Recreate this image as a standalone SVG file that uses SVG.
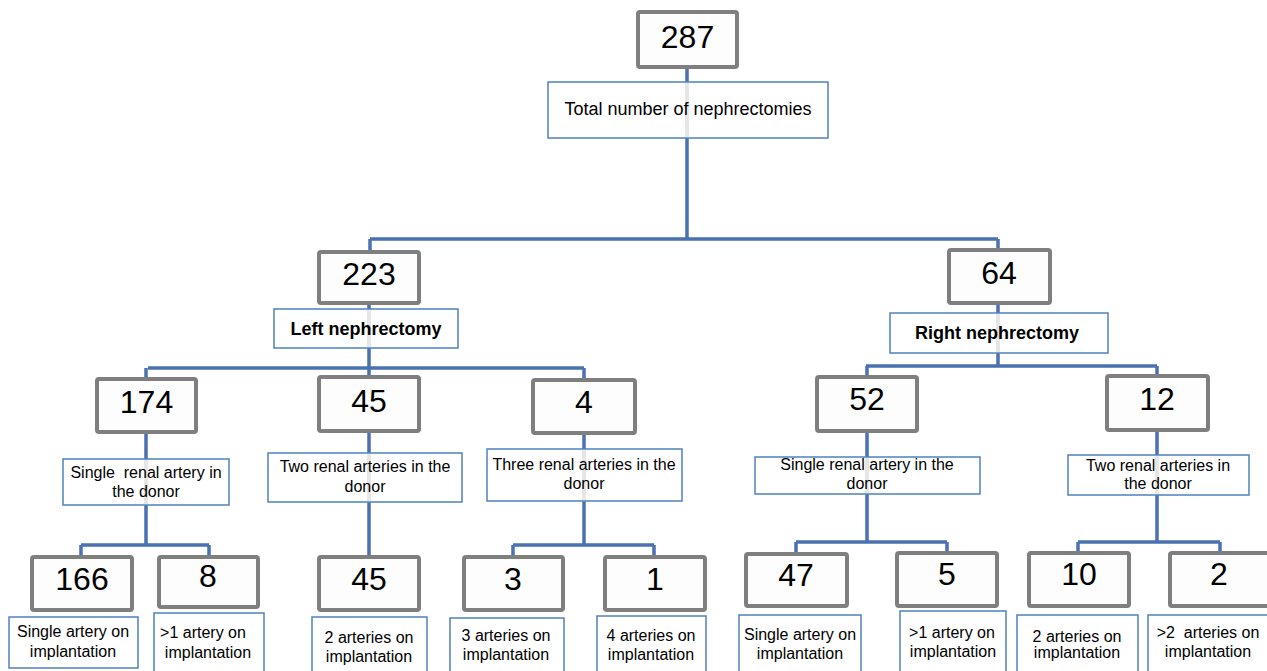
<svg xmlns="http://www.w3.org/2000/svg" width="1267" height="671" viewBox="0 0 1267 671">
<style>
.num{fill:#fdfdfd;stroke:#7f7f7f;stroke-width:4;}
.lab{fill:#ffffff;stroke:#4f81bd;stroke-width:1.5;}
.ghost{stroke:#e6e6e6;stroke-width:4;fill:none;}
.conn{stroke:#4a72b0;stroke-width:3.5;fill:none;stroke-linejoin:miter;}
.n{font-family:"Liberation Sans",Arial,sans-serif;font-size:32px;fill:#000;text-anchor:middle;}
.t{font-family:"Liberation Sans",Arial,sans-serif;font-size:16px;fill:#000;text-anchor:middle;white-space:pre;}
.tb{font-family:"Liberation Sans",Arial,sans-serif;font-size:18px;font-weight:bold;fill:#000;text-anchor:middle;}
.tl{font-family:"Liberation Sans",Arial,sans-serif;font-size:18px;fill:#000;text-anchor:middle;}
</style>
<rect width="1267" height="671" fill="#ffffff"/>
<g id="connectors">
<path class="conn" d="M687,67 V239 M370,239 H998 M370,239 V252 M998,239 V250"/>
<path class="conn" d="M369,303 V368 M148,368 H584 M146,368 V379 M369,368 V377 M584,368 V380"/>
<path class="conn" d="M998,303 V366 M866,366 H1157 M867,366 V377 M1157,366 V376"/>
<path class="conn" d="M146,432 V545 M81,545 H209 M81,545 V557 M209,545 V557"/>
<path class="conn" d="M369,431 V557"/>
<path class="conn" d="M584,433 V545 M513,545 H654 M513,545 V557 M654,545 V557"/>
<path class="conn" d="M867,431 V542 M796,542 H947 M796,542 V554 M947,542 V553"/>
<path class="conn" d="M1157,430 V542 M1078,542 H1220 M1078,542 V553 M1220,542 V553"/>
</g>
<g id="n287"><rect class="num" x="638" y="12" width="99" height="55" rx="2"/><text class="n" x="687.5" y="48">287</text></g>
<g id="lTotal"><rect class="lab" x="548" y="82" width="280" height="56"/><line class="ghost" x1="687" y1="83" x2="687" y2="137"/><text class="tl" x="688" y="115">Total number of nephrectomies</text></g>
<g id="n223"><rect class="num" x="319" y="252" width="100" height="51" rx="2"/><text class="n" x="369" y="285">223</text></g>
<g id="lLeft"><rect class="lab" x="274" y="309" width="184" height="39"/><line class="ghost" x1="369" y1="310" x2="369" y2="347"/><text class="tb" x="366" y="335">Left nephrectomy</text></g>
<g id="n64"><rect class="num" x="949" y="250" width="101" height="53" rx="2"/><text class="n" x="999" y="284">64</text></g>
<g id="lRight"><rect class="lab" x="890" y="313" width="218" height="40"/><line class="ghost" x1="998" y1="314" x2="998" y2="352"/><text class="tb" x="997" y="339">Right nephrectomy</text></g>
<g id="n174"><rect class="num" x="97" y="379" width="99" height="53" rx="2"/><text class="n" x="146.5" y="413">174</text></g>
<g id="l174"><rect class="lab" x="63" y="459" width="166" height="46"/><line class="ghost" x1="146" y1="460" x2="146" y2="504"/><text class="t" x="146" y="478">Single  renal artery in</text><text class="t" x="146" y="497">the donor</text></g>
<g id="n45a"><rect class="num" x="319" y="377" width="100" height="54" rx="2"/><text class="n" x="369" y="412">45</text></g>
<g id="l45a"><rect class="lab" x="268" y="453" width="194" height="49"/><line class="ghost" x1="369" y1="454" x2="369" y2="501"/><text class="t" x="365" y="472">Two renal arteries in the</text><text class="t" x="365" y="492">donor</text></g>
<g id="n4"><rect class="num" x="533" y="380" width="102" height="53" rx="2"/><text class="n" x="584" y="413">4</text></g>
<g id="l4"><rect class="lab" x="487" y="449" width="195" height="52"/><line class="ghost" x1="584" y1="450" x2="584" y2="500"/><text class="t" x="584" y="470">Three renal arteries in the</text><text class="t" x="584" y="489">donor</text></g>
<g id="n52"><rect class="num" x="817" y="377" width="100" height="54" rx="2"/><text class="n" x="867" y="410">52</text></g>
<g id="l52"><rect class="lab" x="755" y="457" width="225" height="37"/><line class="ghost" x1="867" y1="458" x2="867" y2="493"/><text class="t" x="867" y="470">Single renal artery in the</text><text class="t" x="867" y="489">donor</text></g>
<g id="n12"><rect class="num" x="1107" y="376" width="101" height="54" rx="2"/><text class="n" x="1157" y="410">12</text></g>
<g id="l12"><rect class="lab" x="1068" y="455" width="181" height="40"/><line class="ghost" x1="1157" y1="456" x2="1157" y2="494"/><text class="t" x="1158" y="471">Two renal arteries in</text><text class="t" x="1158" y="489">the donor</text></g>
<g id="n166"><rect class="num" x="32" y="557" width="100" height="53" rx="2"/><text class="n" x="82" y="590">166</text></g>
<g id="l166"><rect class="lab" x="9" y="617" width="129" height="51"/><text class="t" x="73" y="637">Single artery on</text><text class="t" x="73" y="657">implantation</text></g>
<g id="n8"><rect class="num" x="159" y="557" width="99" height="50" rx="2"/><text class="n" x="208" y="587">8</text></g>
<g id="l8"><rect class="lab" x="154" y="613" width="110" height="62"/><text class="t" x="203" y="638">&gt;1 artery on</text><text class="t" x="208" y="658">implantation</text></g>
<g id="n45b"><rect class="num" x="319" y="557" width="100" height="53" rx="2"/><text class="n" x="369" y="590">45</text></g>
<g id="l45b"><rect class="lab" x="312" y="617" width="115" height="58"/><text class="t" x="369" y="643">2 arteries on</text><text class="t" x="369" y="662">implantation</text></g>
<g id="n3"><rect class="num" x="464" y="557" width="99" height="53" rx="2"/><text class="n" x="513" y="590">3</text></g>
<g id="l3"><rect class="lab" x="450" y="618" width="114" height="57"/><text class="t" x="506" y="641">3 arteries on</text><text class="t" x="506" y="660">implantation</text></g>
<g id="n1"><rect class="num" x="605" y="557" width="100" height="53" rx="2"/><text class="n" x="655" y="590">1</text></g>
<g id="l1"><rect class="lab" x="597" y="616" width="109" height="59"/><text class="t" x="651" y="641">4 arteries on</text><text class="t" x="651" y="660">implantation</text></g>
<g id="n47"><rect class="num" x="746" y="554" width="101" height="52" rx="2"/><text class="n" x="796" y="586">47</text></g>
<g id="l47"><rect class="lab" x="739" y="615" width="122" height="60"/><text class="t" x="800" y="640">Single artery on</text><text class="t" x="800" y="659">implantation</text></g>
<g id="n5"><rect class="num" x="897" y="553" width="100" height="53" rx="2"/><text class="n" x="947" y="585">5</text></g>
<g id="l5"><rect class="lab" x="900" y="611" width="106" height="64"/><text class="t" x="952" y="638">&gt;1 artery on</text><text class="t" x="953" y="657">implantation</text></g>
<g id="n10"><rect class="num" x="1029" y="553" width="100" height="53" rx="2"/><text class="n" x="1079" y="585">10</text></g>
<g id="l10"><rect class="lab" x="1017" y="615" width="121" height="60"/><text class="t" x="1077" y="642">2 arteries on</text><text class="t" x="1077" y="658">implantation</text></g>
<g id="n2"><rect class="num" x="1170" y="553" width="102" height="53" rx="2"/><text class="n" x="1219" y="585">2</text></g>
<g id="l2"><rect class="lab" x="1148" y="615" width="125" height="60"/><text class="t" x="1208" y="638">&gt;2  arteries on</text><text class="t" x="1208" y="657">implantation</text></g>
</svg>
